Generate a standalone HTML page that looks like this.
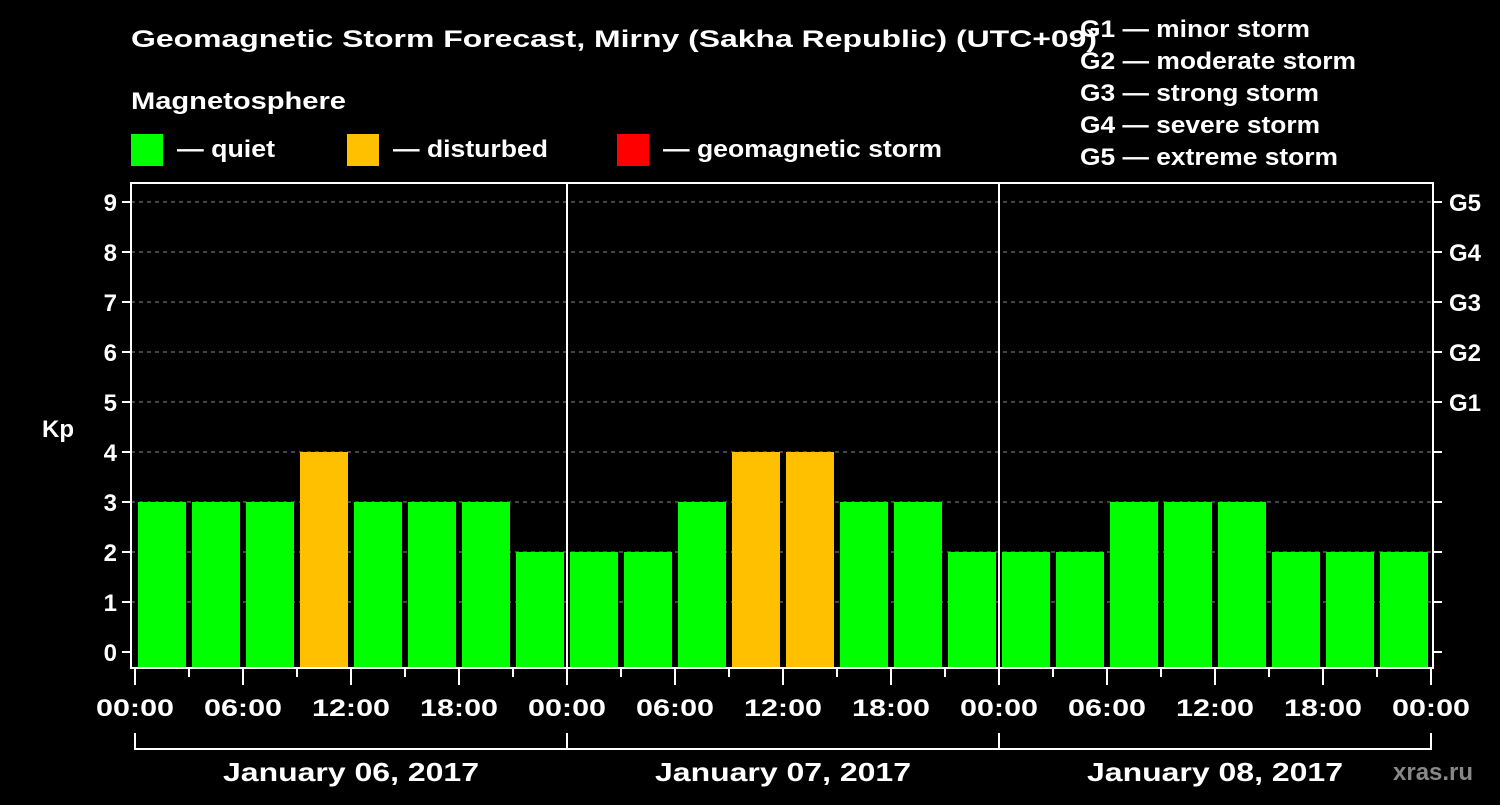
<!DOCTYPE html>
<html><head><meta charset="utf-8"><style>
html,body{margin:0;padding:0;background:#000;}
svg, svg text{font-family:"Liberation Sans", Arial, sans-serif;font-weight:bold;}
</style></head><body>
<svg id="chart" width="1500" height="800" viewBox="0 0 1500 800" font-family="Liberation Sans, Arial, sans-serif" font-weight="bold">
<rect x="0" y="0" width="1500" height="800" fill="#000"/>
<text x="131" y="47" fill="#fff" font-size="24" textLength="966" lengthAdjust="spacingAndGlyphs">Geomagnetic Storm Forecast, Mirny (Sakha Republic) (UTC+09)</text>
<text x="131" y="109" fill="#fff" font-size="24" textLength="215" lengthAdjust="spacingAndGlyphs">Magnetosphere</text>
<rect x="131" y="134" width="32" height="32" fill="#00ff00"/>
<text x="177" y="157" fill="#fff" font-size="24" textLength="98" lengthAdjust="spacingAndGlyphs">— quiet</text>
<rect x="347" y="134" width="32" height="32" fill="#ffc000"/>
<text x="393" y="157" fill="#fff" font-size="24" textLength="155" lengthAdjust="spacingAndGlyphs">— disturbed</text>
<rect x="617" y="134" width="32" height="32" fill="#ff0000"/>
<text x="663" y="157" fill="#fff" font-size="24" textLength="279" lengthAdjust="spacingAndGlyphs">— geomagnetic storm</text>
<g fill="#fff" font-size="24">
<text x="1080" y="37" textLength="230" lengthAdjust="spacingAndGlyphs">G1 — minor storm</text>
<text x="1080" y="69" textLength="276" lengthAdjust="spacingAndGlyphs">G2 — moderate storm</text>
<text x="1080" y="101" textLength="239" lengthAdjust="spacingAndGlyphs">G3 — strong storm</text>
<text x="1080" y="133" textLength="240" lengthAdjust="spacingAndGlyphs">G4 — severe storm</text>
<text x="1080" y="165" textLength="258" lengthAdjust="spacingAndGlyphs">G5 — extreme storm</text>
</g>
<text x="42" y="437" fill="#fff" font-size="24">Kp</text>
<g id="grid"></g>
<g id="bars"></g>
<g id="axes"></g>
<text x="1393" y="780" fill="#888" font-size="24" font-weight="normal">xras.ru</text>
</svg>
<script>
const kpValues = [3,3,3,4,3,3,3,2, 2,2,3,4,4,3,3,2, 2,2,3,3,3,2,2,2];
const dayLabels = ["January 06, 2017","January 07, 2017","January 08, 2017"];
const yTicks = [0,1,2,3,4,5,6,7,8,9];
const gLabels = ["G1","G2","G3","G4","G5"];
const hourLabels = ["00:00","06:00","12:00","18:00"];

(function(){
const NS="http://www.w3.org/2000/svg";
const pLeft=131,pRight=1433,pTop=183,pBottom=668,x0=135,slot=54;
const y=v=>652-v*50;
const x=i=>x0+i*slot;
function mk(tag,attrs,parent,txt){const e=document.createElementNS(NS,tag);for(const k in attrs)e.setAttribute(k,attrs[k]);if(txt!==undefined)e.textContent=txt;parent.appendChild(e);return e;}
const grid=document.getElementById('grid'),bars=document.getElementById('bars'),axes=document.getElementById('axes');
yTicks.forEach(v=>{
  if(v>0){const l=mk('line',{x1:pLeft,x2:pRight,y1:y(v),y2:y(v),stroke:'#888','stroke-width':1,'stroke-dasharray':'4,4'},grid);
  
  }
  const t=mk('line',{x1:122,x2:pLeft,y1:y(v),y2:y(v),stroke:'#fff','stroke-width':2},axes);
  
  
  const r=mk('line',{x1:pRight,x2:1442,y1:y(v),y2:y(v),stroke:'#fff','stroke-width':2},axes);
  
  
  const lb=mk('text',{x:117,y:y(v)+9,fill:'#fff','font-size':24,'text-anchor':'end'},axes,String(v));
  
  
});
gLabels.forEach((g,i)=>{
  const t=mk('text',{x:1449,y:y(5+i)+9,fill:'#fff','font-size':24},axes,g);
  
  
});
kpValues.forEach((v,i)=>{
  const c=v>=5?'#ff0000':(v>=4?'#ffc000':'#00ff00');
  const b=mk('rect',{x:x(i)+3,y:y(v),width:48,height:pBottom-y(v),fill:c},bars);
  
  
});
[1,2].forEach(d=>{
  const l=mk('line',{x1:x(d*8),x2:x(d*8),y1:pTop,y2:pBottom,stroke:'#fff','stroke-width':2},axes);
  
  
});
const fr=mk('rect',{x:pLeft,y:pTop,width:pRight-pLeft,height:pBottom-pTop,fill:'none',stroke:'#fff','stroke-width':2},axes);


for(let i=0;i<=24;i++){
  const major=i%2===0;
  const t=mk('line',{x1:x(i),x2:x(i),y1:pBottom,y2:major?685:677,stroke:'#fff','stroke-width':2},axes);
  
  
  if(major){
    const lb=mk('text',{x:x(i),y:716,fill:'#fff','font-size':24,'text-anchor':'middle',textLength:78,lengthAdjust:'spacingAndGlyphs'},axes,hourLabels[(i/2)%4]);
    
    
  }
}
const br=mk('path',{d:'M'+x(0)+' 733 V749 H'+x(24)+' V733 M'+x(8)+' 733 V749 M'+x(16)+' 733 V749',stroke:'#fff','stroke-width':2,fill:'none'},axes);


dayLabels.forEach((d,i)=>{
  const t=mk('text',{x:x(i*8+4),y:781,fill:'#fff','font-size':26,'text-anchor':'middle',textLength:256,lengthAdjust:'spacingAndGlyphs'},axes,d);
  
  
});
})();
</script>
</body></html>
